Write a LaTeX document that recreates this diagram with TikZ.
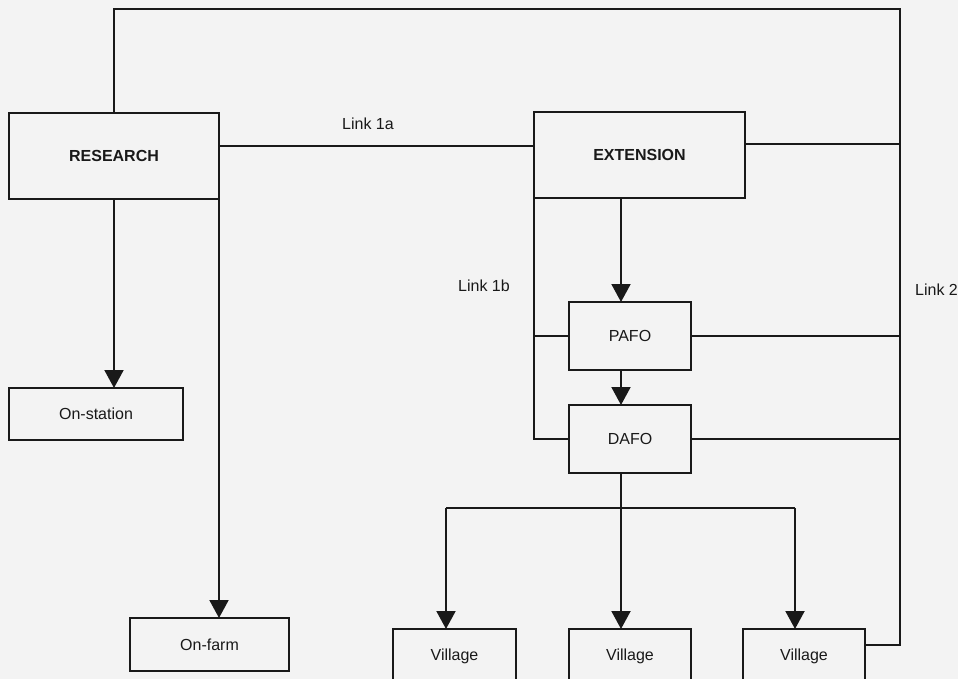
\documentclass[tikz,border=0pt]{standalone}
\usepackage{fontspec}
\setmainfont{Liberation Sans}
\usetikzlibrary{arrows.meta}
\definecolor{bgc}{RGB}{243,243,243}
\definecolor{ink}{RGB}{25,25,25}
\begin{document}
\begin{tikzpicture}[x=1pt,y=-1pt,
  box/.style={draw=ink, line width=2pt, inner sep=0pt, outer sep=0pt, text=ink, font=\fontsize{16}{19}\selectfont},
  bbox/.style={box, font=\fontsize{16}{19}\selectfont\bfseries},
  lbl/.style={text=ink, font=\fontsize{16}{19}\selectfont, inner sep=0pt},
  conn/.style={draw=ink, line width=2pt},
  arr/.style={conn, -{Triangle[width=19pt,length=18pt]}}]
\useasboundingbox (0,0) rectangle (958,679);
\clip (0,0) rectangle (958,679);
\fill[bgc] (0,0) rectangle (958,679);

% nodes
\node[bbox, minimum width=210pt, minimum height=86pt] (research) at (114,156) {RESEARCH};
\node[bbox, minimum width=211pt, minimum height=86pt] (extension) at (639.5,155) {EXTENSION};
\node[box, minimum width=122pt, minimum height=68pt] (pafo) at (630,336) {PAFO};
\node[box, minimum width=122pt, minimum height=68pt] (dafo) at (630,439) {DAFO};
\node[box, minimum width=174pt, minimum height=52pt] (onstation) at (96,414) {On-station};
\node[box, minimum width=159pt, minimum height=53pt] (onfarm) at (209.5,644.5) {On-farm};
\node[box, minimum width=123pt, minimum height=54pt] (village1) at (454.5,656) {Village};
\node[box, minimum width=122pt, minimum height=54pt] (village2) at (630,656) {Village};
\node[box, minimum width=122pt, minimum height=54pt] (village3) at (804,656) {Village};

% labels
\node[lbl] (l1a) at (368,124) {Link 1a};
\node[lbl, anchor=east] (l1b) at (510,286) {Link 1b};
\node[lbl, anchor=west] (l2) at (915,290) {Link 2};

% helper coordinates
\coordinate (topy) at (0,9.5);
\coordinate (rb) at (900,0);
\coordinate (l1ay) at (0,146);
\coordinate (extry) at (0,144);
\coordinate (colx) at (621,0);
\coordinate (bus) at (0,508);
\coordinate (v1x) at (446,0);
\coordinate (v3x) at (795,0);
\coordinate (v3y) at (0,645);

% Link 2 loop
\draw[conn] (research.north) -- (research.north |- topy) -- (rb |- topy) -- (rb |- v3y) -- (village3.east |- v3y);
\draw[conn] (extension.east |- extry) -- (rb |- extry);
\draw[conn] (pafo.east) -- (pafo.east -| rb);
\draw[conn] (dafo.east) -- (dafo.east -| rb);

% Link 1a
\draw[conn] (research.east |- l1ay) -- (extension.west |- l1ay);

% Research downwards
\draw[arr] (research.south) -- (onstation.north -| research.south);
\draw[arr] (research.south east) -- (onfarm.north -| research.south east);

% Link 1b
\draw[conn] (extension.south west) -- (extension.south west |- dafo.west) -- (dafo.west);
\draw[conn] (extension.south west |- pafo.west) -- (pafo.west);

% Extension chain
\draw[arr] (extension.south -| colx) -- (pafo.north -| colx);
\draw[arr] (pafo.south -| colx) -- (dafo.north -| colx);
\draw[conn] (dafo.south -| colx) -- (bus -| colx);
\draw[conn] (bus -| v1x) -- (bus -| v3x);
\draw[arr] (bus -| v1x) -- (village1.north -| v1x);
\draw[arr] (bus -| colx) -- (village2.north -| colx);
\draw[arr] (bus -| v3x) -- (village3.north -| v3x);
\end{tikzpicture}
\end{document}
